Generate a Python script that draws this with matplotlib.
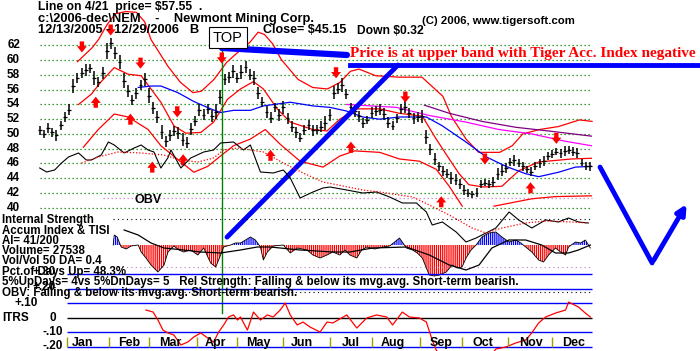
import numpy as np
import matplotlib.pyplot as plt

# ---- price bars, one every 2 trading days from 12/13/2005 ----
bar_days = np.arange(0, 263, 2)
bar_mid = [50.5, 50.0, 50.8, 50.2, 49.8, 51.2, 52.3, 53.3, 56.5, 57.6,
           58.3, 58.7, 58.9, 57.6, 57.0, 58.3, 61.3, 62.3, 61.0, 59.8,
           57.2, 55.8, 54.6, 55.5, 56.6, 57.4, 55.2, 53.5, 52.3, 50.2,
           49.0, 49.8, 50.4, 50.1, 49.2, 48.8, 50.7, 51.8, 53.3, 52.6,
           53.4, 52.4, 53.0, 55.0, 57.4, 57.7, 58.5, 57.6, 58.4, 59.1,
           58.0, 57.6, 55.5, 54.3, 53.0, 52.2, 53.6, 52.6, 53.6, 52.1,
           51.0, 50.2, 49.5, 50.5, 51.2, 50.5, 50.6, 51.0, 51.5, 52.6,
           55.6, 56.1, 56.6, 55.4, 53.6, 53.1, 52.4, 51.5, 51.9, 52.9,
           53.1, 53.3, 52.7, 51.5, 51.1, 52.1, 53.4, 53.6, 52.8, 52.1,
           52.3, 52.4, 49.6, 47.9, 46.6, 45.6, 45.0, 44.6, 44.0, 43.8,
           43.2, 42.4, 42.0, 41.8, 42.0, 43.2, 43.4, 43.2, 43.5, 44.6,
           45.0, 45.4, 46.2, 46.4, 46.0, 45.6, 45.2, 44.9, 45.6, 46.0,
           46.3, 47.0, 47.3, 47.6, 47.4, 47.7, 47.8, 47.6, 47.4, 46.1,
           45.7, 45.6]
bar_rng = [1.2, 1.0, 1.4, 1.1, 1.6, 1.2, 1.3, 1.5, 2.0, 1.4,
           1.3, 1.6, 1.2, 1.8, 1.4, 1.6, 2.2, 1.5, 1.7, 1.9,
           2.0, 1.6, 1.4, 1.5, 1.3, 1.8, 2.0, 1.6, 1.7, 1.9,
           1.5, 1.4, 1.3, 1.6, 1.8, 1.5, 1.7, 1.4, 1.6, 1.5,
           1.3, 1.6, 2.0, 1.8, 1.4, 1.5, 1.7, 1.4, 1.9, 1.6,
           1.5, 1.8, 1.6, 1.4, 1.7, 1.5, 1.3, 1.6, 1.8, 1.4,
           1.6, 1.5, 1.2, 1.4, 1.3, 1.5, 1.2, 1.4, 1.8, 1.6,
           1.7, 1.5, 1.9, 1.4, 1.3, 1.6, 1.5, 1.4, 1.2, 1.5,
           1.3, 1.4, 1.6, 1.5, 1.2, 1.3, 1.4, 1.6, 1.3, 1.5,
           1.4, 1.8, 1.9, 1.6, 1.5, 1.3, 1.4, 1.2, 1.6, 1.5,
           1.4, 1.3, 1.1, 1.0, 1.2, 1.1, 1.0, 1.2, 1.4, 1.6,
           1.5, 1.3, 1.2, 1.4, 1.1, 1.3, 1.0, 1.2, 1.1, 1.3,
           1.4, 1.2, 1.1, 1.0, 1.2, 1.3, 1.1, 1.2, 1.4, 1.0,
           1.1, 1.2]

# ---- bands / averages (day, price) ----
up_days = [18, 25, 28, 32, 36, 41, 46, 50, 53, 61, 67, 73, 77, 83, 89, 96, 100,
           104, 107, 111, 115, 123, 130, 137, 143, 148, 152, 160, 171, 182, 192,
           196, 203, 209, 219, 225, 230, 238, 247, 257, 263]
up_band = [59.8, 61.7, 62.8, 64.8, 66.3, 66.6, 66.5, 65.2, 62.8, 59.2, 57.0, 55.6,
           55.8, 57.4, 59.7, 61.5, 62.4, 63.8, 63.5, 62.2, 60.1, 57.4, 56.3, 56.1,
           57.0, 58.5, 58.8, 57.9, 57.7, 57.7, 55.1, 52.4, 49.3, 47.5, 47.5, 48.4,
           50.0, 50.6, 51.0, 51.9, 51.7]
mid_days = [18.5, 24.6, 29.3, 35.5, 42.1, 48.3, 53, 57.7, 63.9, 69.6, 76.7, 82.8,
            89.4, 95.6, 101.8, 106.5, 113.1, 119.3, 130.1, 136.8, 142.9, 151, 161.9,
            171.3, 182.2, 188.8, 195, 199.7, 204.4, 211.5, 220.1, 228.1, 237.6,
            253.2, 262.7]
mid_band = [54.0, 55.4, 57.1, 59.0, 58.1, 57.9, 56.1, 54.3, 51.1, 50.1, 50.2, 51.6,
            54.7, 56.1, 57.1, 56.1, 53.4, 51.6, 50.6, 50.4, 52.0, 53.4, 53.4, 52.8,
            52.4, 49.3, 46.6, 44.6, 43.1, 42.8, 42.9, 45.0, 46.2, 46.6, 46.7]
lo_days = [20.8, 27.9, 35.5, 42.1, 51.6, 57.7, 67.2, 73.4, 80, 86.1, 92.3, 100.3,
           107.4, 114.5, 124, 134.9, 142.9, 150, 161.9, 171.3, 180.8, 188.8, 195,
           201.2, 208, 216.3, 234.3, 245.6, 262.7]
lo_band = [48.2, 50.6, 52.7, 52.3, 50.6, 48.4, 46.2, 44.8, 45.6, 47.0, 48.4, 49.3,
           50.6, 48.6, 46.3, 45.5, 47.0, 47.7, 47.5, 46.6, 46.3, 45.2, 42.9, 40.2,
           np.nan, 40.2, 41.2, 41.5, 41.6]
ma_days = [46.9, 53, 57.7, 65.8, 73.4, 81.4, 86.1, 92.3, 100.3, 106.5, 119.3, 130.1,
           138.2, 146.2, 153.8, 161.9, 171.3, 184.1, 191.7, 203, 212.5, 222, 231.4,
           237.6, 247, 255.1, 262.7]
ma_line = [56.3, 56.5, 56.5, 55.6, 54.4, 53.4, 52.9, 53.2, 53.2, 53.8, 54.3, 53.8,
           53.6, 53.1, 52.3, 52.0, 52.3, 52.3, 51.1, 48.9, 46.9, 45.6, 44.6, 44.2,
           44.8, 45.5, 45.6]
pink_days = [146.2, 169.9, 185.5, 203, 218.6, 234.3, 250.4, 262.7]
pink_line = [54.0, 53.6, 52.5, 51.6, 50.6, 50.0, 49.0, 48.4]
purple_days = [183.2, 195, 210.6, 226.7, 242.3, 262.7]
purple_line = [53.9, 52.8, 51.7, 50.9, 50.4, 49.7]

# ---- buy / sell arrows (day, price) ----
sell_days = [20.1, 33.8, 48.0, 65.5, 86.7, 141.1, 174.1, 212.0, 246.0]
sell_px = [61.8, 64.1, 59.6, 53.0, 60.3, 58.3, 55.0, 46.6, 49.4]
buy_days = [26.7, 43.2, 68.3, 53.6, 109.9, 148.2, 191.2, 233.7]
buy_px = [54.3, 52.0, 46.5, 45.5, 47.1, 48.2, 40.8, 42.7]

# ---- OBV and its moving average (scaled units) ----
obv_days = [0, 3.3, 7.1, 10.4, 13.7, 18.5, 22.2, 24.6, 29.3, 32.7, 35.5, 40.2, 45,
            48.3, 51.6, 54.4, 57.7, 61, 62.5, 67.2, 71.9, 78.1, 82.8, 86.1, 92.3, 97,
            100.3, 105.1, 111.2, 116, 119.3, 124, 130.1, 134.9, 138.2, 146.2, 153.8,
            160.4, 166.6, 172.7, 179.4, 184.1, 186.9, 191.7, 198.3, 203, 207.8, 212.5,
            217.2, 223.5, 228.1, 234.3, 240.9, 247, 251.8, 256.5, 261.2]
obv = [82, 78, 80, 87, 93, 97, 90, 90, 95, 108, 105, 97, 102, 105, 100, 98, 82, 92,
       100, 82, 92, 98, 100, 107, 108, 100, 105, 78, 77, 80, 72, 52, 58, 62, 63, 60,
       57, 58, 53, 47, 47, 38, 25, 28, 18, 8, 12, 17, 22, 38, 30, 22, 30, 28, 32, 28, 27]
obv_ma_days = [19.9, 27.9, 37.4, 48.3, 59.1, 67.2, 75.3, 82.8, 87.5, 94.2, 106.5, 116,
               125.4, 134.9, 153.8, 161.9, 177.5, 185.5, 195, 205.9, 212.5, 220.1,
               231.4, 240.9, 253.2, 261.2]
obv_ma = [87, 93, 98, 97, 95, 90, 88, 92, 100, 102, 98, 87, 77, 68, 60, 58, 53, 45,
          35, 22, 17, 22, 27, 29, 28, 27]

# ---- Accumulation index and its average ----
ai_days = [35.0, 35.5, 36.9, 38.8, 41.2, 43.5, 46.9, 48.3, 50.6, 53.0, 56.3, 59.2,
           61.1, 63.9, 66.3, 68.6, 71.9, 75.3, 78.1, 81.4, 83.8, 85.2, 87.6, 90.9,
           93.2, 95.6, 98.0, 100.3, 102.7, 105.1, 106.5, 108.4, 111.2, 116.0, 119.3,
           122.6, 127.3, 130.1, 133.5, 136.8, 139.6, 142.9, 145.3, 147.7, 151.0,
           153.3, 155.7, 159.5, 163.3, 166.6, 169.0, 171.3, 174.6, 177.5, 179.8,
           182.2, 184.1, 185.5, 187.9, 190.3, 193.6, 196.4, 198.8, 201.1, 203.0,
           205.4, 207.8, 210.6, 213.9, 217.2, 220.1, 223.5, 226.7, 229.1, 231.4,
           234.3, 237.6, 239.9, 242.3, 245.6, 248.0, 250.4, 251.8, 255.1, 257.5,
           259.8, 262.2]
ai = [0, 10, 8, -2, -4, -1, 0, -7, -13, -20, -27, -20, -7, -1, -5, -7, -5, -10, -3,
      -18, -22, -15, -2, 0, 2, 2, 5, 8, 5, -2, -15, -7, -1, 0, -8, -3, -5, -10, -13,
      -10, -7, -10, -5, -10, -13, -5, -2, -4, -2, -1, 3, 7, -3, -5, -8, -13, -23,
      -30, -31, -30, -27, -20, -23, -22, -13, -5, 0, 8, 12, 13, 8, 3, 5, 2, -2, -7,
      -15, -17, -10, -3, -7, -10, -2, 3, 2, 5, -3]
ai_ma_days = [40.2, 46.9, 53, 59.2, 68.6, 76.7, 86.1, 95.6, 103.6, 109.8, 124, 139.6,
              147.7, 158.5, 174.6, 185.5, 195, 203, 209.2, 215.3, 223.4, 231.4, 239,
              245.6, 251.8, 256.5, 262.2]
ai_ma = [15, 10, 2, -3, -5, -7, -8, -5, -2, -2, -5, -7, -7, -3, -2, -10, -20, -25,
         -20, -3, 5, 5, 0, -8, -8, -5, 0]

# ---- ITRS ----
itrs_days = [50.6, 54, 56.3, 58.7, 61, 63.9, 67.2, 70.5, 73.4, 76.7, 80, 82.8, 85.2,
             87.6, 89.9, 92.3, 94.2, 95.6, 98.9, 101.8, 105.1, 108.4, 111.2, 114.5,
             116.9, 119.3, 122.6, 125.4, 128.7, 133.5, 136.8, 139.6, 146.2, 151,
             155.7, 160.4, 165.2, 168, 172.7, 176, 180.8, 184.1, 186.9, 188.8, 192.6,
             200, 208, 213.9, 217.2, 222, 226.7, 231.4, 234.3, 237.6, 240.9, 245.6,
             250.4, 251.8, 256.5, 259.8, 262.2]
itrs = [0.055, 0.041, -0.014, -0.083, -0.103, -0.117, -0.186, -0.166, -0.131, -0.103,
        -0.138, -0.166, -0.097, -0.048, 0.007, 0.021, -0.014, 0.007, -0.083, 0.041,
        -0.014, 0.021, 0.007, 0.055, 0.103, 0.021, -0.048, -0.028, -0.062, -0.097,
        -0.028, -0.034, 0.021, -0.069, 0.0, 0.021, 0.007, -0.048, 0.041, 0.007, 0.0,
        -0.028, -0.152, -0.221, -0.29, -0.31, -0.30, -0.276, -0.214, -0.2, -0.172,
        -0.152, -0.103, -0.034, 0.007, 0.034, 0.055, 0.11, 0.076, 0.034, 0.007]

month_start = [13, 33, 52, 75, 94, 116, 138, 158, 181, 201, 223, 244]
month_mid = [20.6, 42.5, 62, 83.5, 104, 125, 148, 168, 191, 211, 234, 254]
month_names = ["Jan", "Feb", "Mar", "Apr", "May", "Jun", "Jul", "Aug", "Sep", "Oct",
               "Nov", "Dec"]
price_ticks = [62, 60, 58, 56, 54, 52, 50, 48, 46, 44, 42, 40]
itrs_ticks = [0.3, 0.2, 0.1, -0.1, -0.2]
line_day = 87  # 4/21

# hand-drawn analyst lines (day, price)
top_line = ([86.8, 146.3], [61.66, 60.71])
band_line = ([147.8, 314.4], [59.35, 59.35])
trend_line = ([89.2, 170.6], [36.0, 59.35])
v_line = ([266.8, 291.6, 308.7], [45.5, 32.5, 40.8])

BOLD = dict(family="Liberation Sans", fontweight="bold")
XL = (-18.9, 314.4)

fig = plt.figure(figsize=(7, 3.51), dpi=100)
fig.patch.set_facecolor("white")


def layer(ylim):
    a = fig.add_axes([0, 0, 1, 1])
    a.set_xlim(*XL)
    a.set_ylim(*ylim)
    a.axis("off")
    a.patch.set_visible(False)
    return a


ax = layer((20.55, 68.17))
ax_obv = layer((-101, 250))
ax_ai = layer((-106, 245))
ax_it = layer((-0.2276, 2.193))

# price panel grid
ax.hlines(price_ticks, 0, 263, colors="#008000", linestyles=(0, (1, 2.2)), lw=0.9)
ax.hlines([41.3], 30, 263, colors="#c080c0", linestyles=(0, (1, 2.2)), lw=0.9)
for p in price_ticks:
    ax.text(20 / 700, p, str(p), transform=ax.get_yaxis_transform(), ha="right",
            va="center", fontsize=8.5, **BOLD)
ax.text(45, 41.1, "OBV", ha="left", va="center", fontsize=9, **BOLD)

# bands
ax.plot(up_days, up_band, color="red", lw=0.9)
ax.plot(mid_days, mid_band, color="red", lw=0.9)
ax.plot(lo_days, lo_band, color="red", lw=0.9)
ax.plot(pink_days, pink_line, color="#ff00ff", lw=0.9)
ax.plot(purple_days, purple_line, color="#800080", lw=0.9)
ax.plot(ma_days, ma_line, color="#0000ff", lw=0.9)

# bars
mid = np.array(bar_mid)
half = np.array(bar_rng) / 2
ax.vlines(bar_days, mid - half, mid + half, colors="black", lw=1.1)
ax.hlines(mid, bar_days - 0.9, bar_days + 0.9, colors="black", lw=0.9)

# arrows
ARROW = dict(arrowstyle="simple,head_length=0.5,head_width=0.8,tail_width=0.35",
             color="red", lw=0, mutation_scale=9, shrinkA=0, shrinkB=0)
for d, p in zip(sell_days, sell_px):
    ax.annotate("", xy=(d, p - 0.75), xytext=(d, p + 0.75), arrowprops=ARROW)
for d, p in zip(buy_days, buy_px):
    ax.annotate("", xy=(d, p + 0.75), xytext=(d, p - 0.75), arrowprops=ARROW)

# OBV
ax_obv.plot(obv_days, obv, color="black", lw=0.8)
ax_obv.plot(obv_ma_days, obv_ma, color="red", lw=0.9, ls=(0, (1, 1.5)))

# Accum index
plt.rcParams["hatch.linewidth"] = 0.9
ai_arr = np.array(ai)
ax_ai.hlines([26], 35, 263, colors="black", linestyles=(0, (1, 3)), lw=0.8)
ax_ai.hlines([-22], 35, 263, colors="#c080c0", linestyles=(0, (1, 3)), lw=0.8)
ax_ai.fill_between(ai_days, 0, ai_arr, where=ai_arr <= 0, interpolate=True,
                   facecolor="none", edgecolor="red", hatch="||||||||", lw=0)
ax_ai.fill_between(ai_days, 0, ai_arr, where=ai_arr >= 0, interpolate=True,
                   facecolor="none", edgecolor="blue", hatch="||||||||", lw=0)
ax_ai.plot(ai_days, ai, color="black", lw=0.6)
ax_ai.plot(ai_ma_days, ai_ma, color="black", lw=0.9)

# ITRS
ax_it.hlines(itrs_ticks, 13, 263, colors="#0000ff", lw=1.0)
ax_it.hlines([0], 13, 263, colors="black", lw=1.0)
ax_it.hlines([0.18], 35, 263, colors="black", linestyles=(0, (1, 3)), lw=0.8)
ax_it.plot(itrs_days, itrs, color="red", lw=0.9)
ax_it.vlines(month_start, -0.2, -0.13, colors="#a0a000", lw=1.0)
for d, m in zip(month_mid, month_names):
    ax_it.text(d, -0.175, m, ha="center", va="center", fontsize=9, **BOLD)
for v, s, x in [(0.1, "+.10", 38), (0.0, "0", 56), (-0.1, "-.10", 63),
                (-0.19, "-.20", 63), (0.315, "+.30", 56), (0.215, "+.20", 56)]:
    ax_it.text(x / 700, v, s, transform=ax_it.get_yaxis_transform(), ha="right",
               va="center", fontsize=8.5, **BOLD)
ax_it.text(2 / 700, 0.0, "ITRS", transform=ax_it.get_yaxis_transform(), ha="left",
           va="center", fontsize=8.5, **BOLD)

# green marker line on 4/21
ax.axvline(line_day, ymin=0.108, ymax=0.872, color="#008000", lw=1.0)

# analyst lines
ax.plot(*top_line, color="#0000ff", lw=4.5, solid_capstyle="round")
ax.plot(*band_line, color="#0000ff", lw=3.5)
ax.plot(*trend_line, color="#0000ff", lw=3.5, solid_capstyle="round")
ax.plot(v_line[0][:2], v_line[1][:2], color="#0000ff", lw=3.5, solid_capstyle="round")
ax.annotate("", xy=(v_line[0][2], v_line[1][2]), xytext=(v_line[0][1], v_line[1][1]),
            arrowprops=dict(arrowstyle="-|>", color="#0000ff", lw=3.5, mutation_scale=14))


# header texts
def ftext(x, y, s, **kw):
    fig.text(x / 700, 1 - y / 351, s, va="center", **kw)


ftext(38, 7, "Line on 4/21  price= $57.55  .", fontsize=8.7, **BOLD)
ftext(38, 19, "c:\\2006-dec\\NEM    -    Newmont Mining Corp.", fontsize=9.3, **BOLD)
ftext(38, 30, "12/13/2005 - 12/29/2006   B", fontsize=9.3, **BOLD)
ftext(263, 30, "Close= $45.15", fontsize=9, **BOLD)
ftext(357, 31, "Down $0.32", fontsize=8.7, **BOLD)
ftext(422, 21, "(C) 2006, www.tigersoft.com", fontsize=8.2, **BOLD)
ftext(228, 37.5, "TOP", fontsize=10.5, ha="center", family="Liberation Sans",
      bbox=dict(boxstyle="square,pad=0.25", facecolor="white", edgecolor="black", lw=0.8))
ftext(350, 53, "Price is at upper band with Tiger Acc. Index negative", fontsize=11,
      color="red", family="Liberation Serif", fontweight="bold")

left_lines = [(220, "Internal Strength"), (231, "Accum Index & TISI"),
              (241, "AI= 41/200"), (251, "Volume= 27538"),
              (261, "Vol/Vol 50 DA= 0.4"), (272, "Pct.of Days Up= 48.3%"),
              (282, "5%UpDays= 4vs 5%DnDays= 5   Rel Strength: Falling & below its mvg.avg. Short-term bearish."),
              (293, "OBV: Falling & below its mvg.avg. Short-term bearish.")]
for y, s in left_lines:
    ftext(2, y, s, fontsize=8.3, **BOLD)

fig.savefig("out.png", dpi=100)
